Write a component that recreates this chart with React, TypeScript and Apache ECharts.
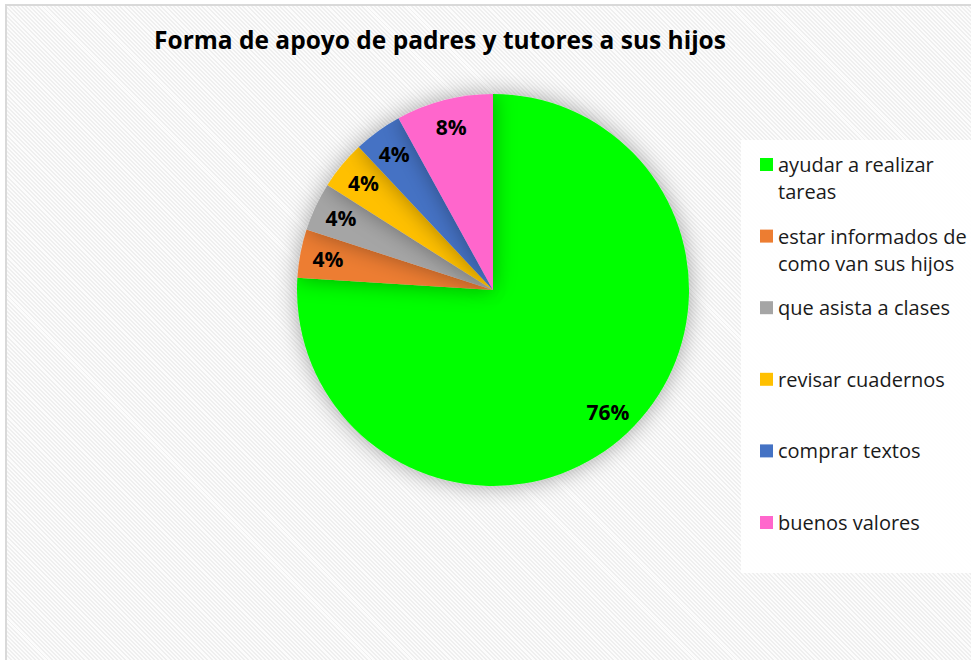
import React, { useEffect, useRef } from "react";
import * as echarts from "echarts";

const title = "Forma de apoyo de padres y tutores a sus hijos";
const categories = [
  "ayudar a realizar tareas",
  "estar informados de como van sus hijos",
  "que asista a clases",
  "revisar cuadernos",
  "comprar textos",
  "buenos valores",
];
const legendLines = [
  ["ayudar a realizar", "tareas"],
  ["estar informados de", "como van sus hijos"],
  ["que asista a clases"],
  ["revisar cuadernos"],
  ["comprar textos"],
  ["buenos valores"],
];
const values = [76, 4, 4, 4, 4, 8];
const colors = ["#00ff00", "#ed7d31", "#a5a5a5", "#ffc000", "#4472c4", "#ff66cc"];

const FONT = "'Open Sans', sans-serif";

export default function App() {
  const ref = useRef<HTMLDivElement>(null);
  useEffect(() => {
    if (!ref.current) return;
    const chart = echarts.init(ref.current, undefined, { renderer: "svg" });
    const data = categories.map((c, i) => ({ name: c, value: values[i], itemStyle: { color: colors[i] } }));
    const legendTop = 157;
    const legendStep = 71.6;
    const legendGraphics: any[] = [];
    legendLines.forEach((lines, i) => {
      const y = legendTop + i * legendStep;
      legendGraphics.push({
        type: "rect",
        shape: { x: 760, y: y + 1, width: 13, height: 13 },
        style: { fill: colors[i] },
        silent: true,
      });
      legendGraphics.push({
        type: "text",
        x: 778,
        y: y - 6,
        style: {
          text: lines.join("\n"),
          fill: "#1a1a1a",
          font: `20px ${FONT}`,
          lineHeight: 27,
        },
        silent: true,
      });
    });
    chart.setOption({
      animation: false,
      title: {
        text: title,
        left: 435,
        top: 22,
        textAlign: "center",
        textStyle: { fontFamily: FONT, fontWeight: "bold", fontSize: 24.5, color: "#000" },
      },
      graphic: [
        {
          type: "rect",
          shape: { x: 6, y: 5, width: 1000, height: 700 },
          style: { fill: "none", stroke: "#d9d9d9", lineWidth: 2 },
          silent: true,
          z: 0,
        },
        {
          type: "rect",
          shape: { x: 741, y: 140, width: 240, height: 433 },
          style: { fill: "rgba(255,255,255,0.9)" },
          silent: true,
          z: 0,
        },
        ...legendGraphics,
      ],
      series: [
        {
          type: "pie",
          center: [493, 290],
          radius: [0, 196],
          startAngle: 90,
          clockwise: true,
          label: { show: false },
          labelLine: { show: false },
          itemStyle: { shadowBlur: 22, shadowColor: "rgba(0,0,0,0.35)", borderWidth: 0 },
          emphasis: { disabled: true },
          data,
        },
        {
          type: "pie",
          center: [493, 290],
          radius: [134, 196],
          startAngle: 90,
          clockwise: true,
          silent: true,
          itemStyle: { color: "transparent", borderWidth: 0 },
          label: {
            show: true,
            position: "inside",
            formatter: "{d}%",
            fontFamily: FONT,
            fontWeight: "bold",
            fontSize: 21,
            color: "#000",
          },
          labelLine: { show: false },
          emphasis: { disabled: true },
          data: categories.map((c, i) => ({ name: c, value: values[i] })),
        },
      ],
    });
    return () => chart.dispose();
  }, []);
  return (
    <div
      style={{
        position: "fixed",
        left: 0,
        top: 0,
        width: 971,
        height: 660,
        background: "#fff",
      }}
    >
      <div
        style={{
          position: "absolute",
          left: 6,
          top: 5,
          width: 965,
          height: 655,
          background: "repeating-linear-gradient(45deg, #efefef 0px, #efefef 1.4px, #fcfcfc 1.4px, #fcfcfc 2.9px)",
        }}
      />
      <div ref={ref} style={{ position: "absolute", left: 0, top: 0, width: 971, height: 660 }} />
    </div>
  );
}
